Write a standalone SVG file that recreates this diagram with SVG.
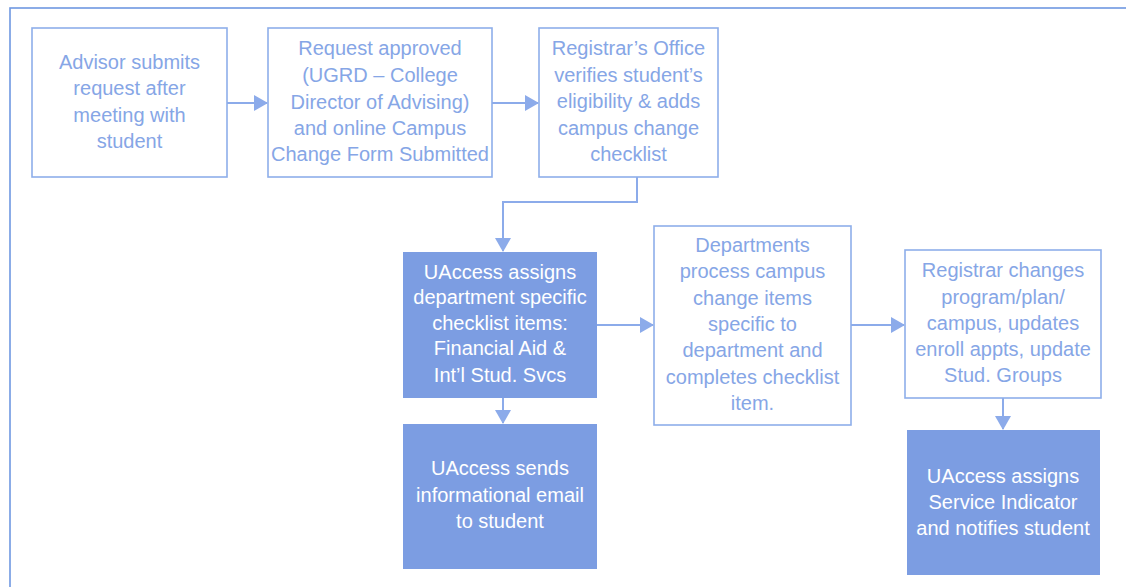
<svg xmlns="http://www.w3.org/2000/svg" width="1126" height="587" viewBox="0 0 1126 587">
<defs>
<style>
.frame{fill:none;stroke:#6f98e2;stroke-width:1.6}
.box{fill:#ffffff;stroke:#8eaeea;stroke-width:1.6}
.fill{fill:#7c9de2;stroke:none}
.t{font-family:"Liberation Sans",Arial,sans-serif;font-size:20px;text-anchor:middle;fill:#86a6e6}
.w{fill:#ffffff}
.c{fill:none;stroke:#8cabea;stroke-width:2}
</style>
<marker id="ah" viewBox="0 0 14 16" refX="13" refY="8" markerWidth="14" markerHeight="16" markerUnits="userSpaceOnUse" orient="auto">
<path d="M0,0 L14,8 L0,16 Z" fill="#8cabea"/>
</marker>
</defs>
<rect width="1126" height="587" fill="#ffffff"/>
<rect class="frame" x="10" y="8" width="1140" height="600"/>

<g id="connectors">
<path class="c" d="M227,103 H267" marker-end="url(#ah)"/>
<path class="c" d="M492,103 H538" marker-end="url(#ah)"/>
<path class="c" d="M637,177 V202 H503 V251" marker-end="url(#ah)"/>
<path class="c" d="M503,398 V423" marker-end="url(#ah)"/>
<path class="c" d="M597,325 H653" marker-end="url(#ah)"/>
<path class="c" d="M851,325 H904" marker-end="url(#ah)"/>
<path class="c" d="M1003,398 V429" marker-end="url(#ah)"/>
</g>

<g id="n1">
<rect class="box" x="32" y="28" width="195" height="149"/>
<text class="t" x="129.5" y="69">Advisor submits</text>
<text class="t" x="129.5" y="95">request after</text>
<text class="t" x="129.5" y="122">meeting with</text>
<text class="t" x="129.5" y="148">student</text>
</g>

<g id="n2">
<rect class="box" x="268" y="28" width="224" height="149"/>
<text class="t" x="380" y="55">Request approved</text>
<text class="t" x="380" y="82">(UGRD – College</text>
<text class="t" x="380" y="109">Director of Advising)</text>
<text class="t" x="380" y="135">and online Campus</text>
<text class="t" x="380" y="161">Change Form Submitted</text>
</g>

<g id="n3">
<rect class="box" x="539" y="28" width="179" height="149"/>
<text class="t" x="628.5" y="55">Registrar’s Office</text>
<text class="t" x="628.5" y="82">verifies student’s</text>
<text class="t" x="628.5" y="108">eligibility &amp; adds</text>
<text class="t" x="628.5" y="135">campus change</text>
<text class="t" x="628.5" y="161">checklist</text>
</g>

<g id="n4">
<rect class="fill" x="403" y="252" width="194" height="146"/>
<text class="t w" x="500" y="279">UAccess assigns</text>
<text class="t w" x="500" y="304">department specific</text>
<text class="t w" x="500" y="330">checklist items:</text>
<text class="t w" x="500" y="355">Financial Aid &amp;</text>
<text class="t w" x="500" y="382">Int’l Stud. Svcs</text>
</g>

<g id="n5">
<rect class="fill" x="403" y="424" width="194" height="145"/>
<text class="t w" x="500" y="475">UAccess sends</text>
<text class="t w" x="500" y="502">informational email</text>
<text class="t w" x="500" y="528">to student</text>
</g>

<g id="n6">
<rect class="box" x="654" y="226" width="197" height="199"/>
<text class="t" x="752.5" y="252">Departments</text>
<text class="t" x="752.5" y="278">process campus</text>
<text class="t" x="752.5" y="305">change items</text>
<text class="t" x="752.5" y="331">specific to</text>
<text class="t" x="752.5" y="357">department and</text>
<text class="t" x="752.5" y="384">completes checklist</text>
<text class="t" x="752.5" y="410">item.</text>
</g>

<g id="n7">
<rect class="box" x="905" y="250" width="196" height="148"/>
<text class="t" x="1003" y="277">Registrar changes</text>
<text class="t" x="1003" y="304">program/plan/</text>
<text class="t" x="1003" y="330">campus, updates</text>
<text class="t" x="1003" y="356">enroll appts, update</text>
<text class="t" x="1003" y="382">Stud. Groups</text>
</g>

<g id="n8">
<rect class="fill" x="907" y="430" width="193" height="145"/>
<text class="t w" x="1003" y="483">UAccess assigns</text>
<text class="t w" x="1003" y="509">Service Indicator</text>
<text class="t w" x="1003" y="535">and notifies student</text>
</g>
</svg>
